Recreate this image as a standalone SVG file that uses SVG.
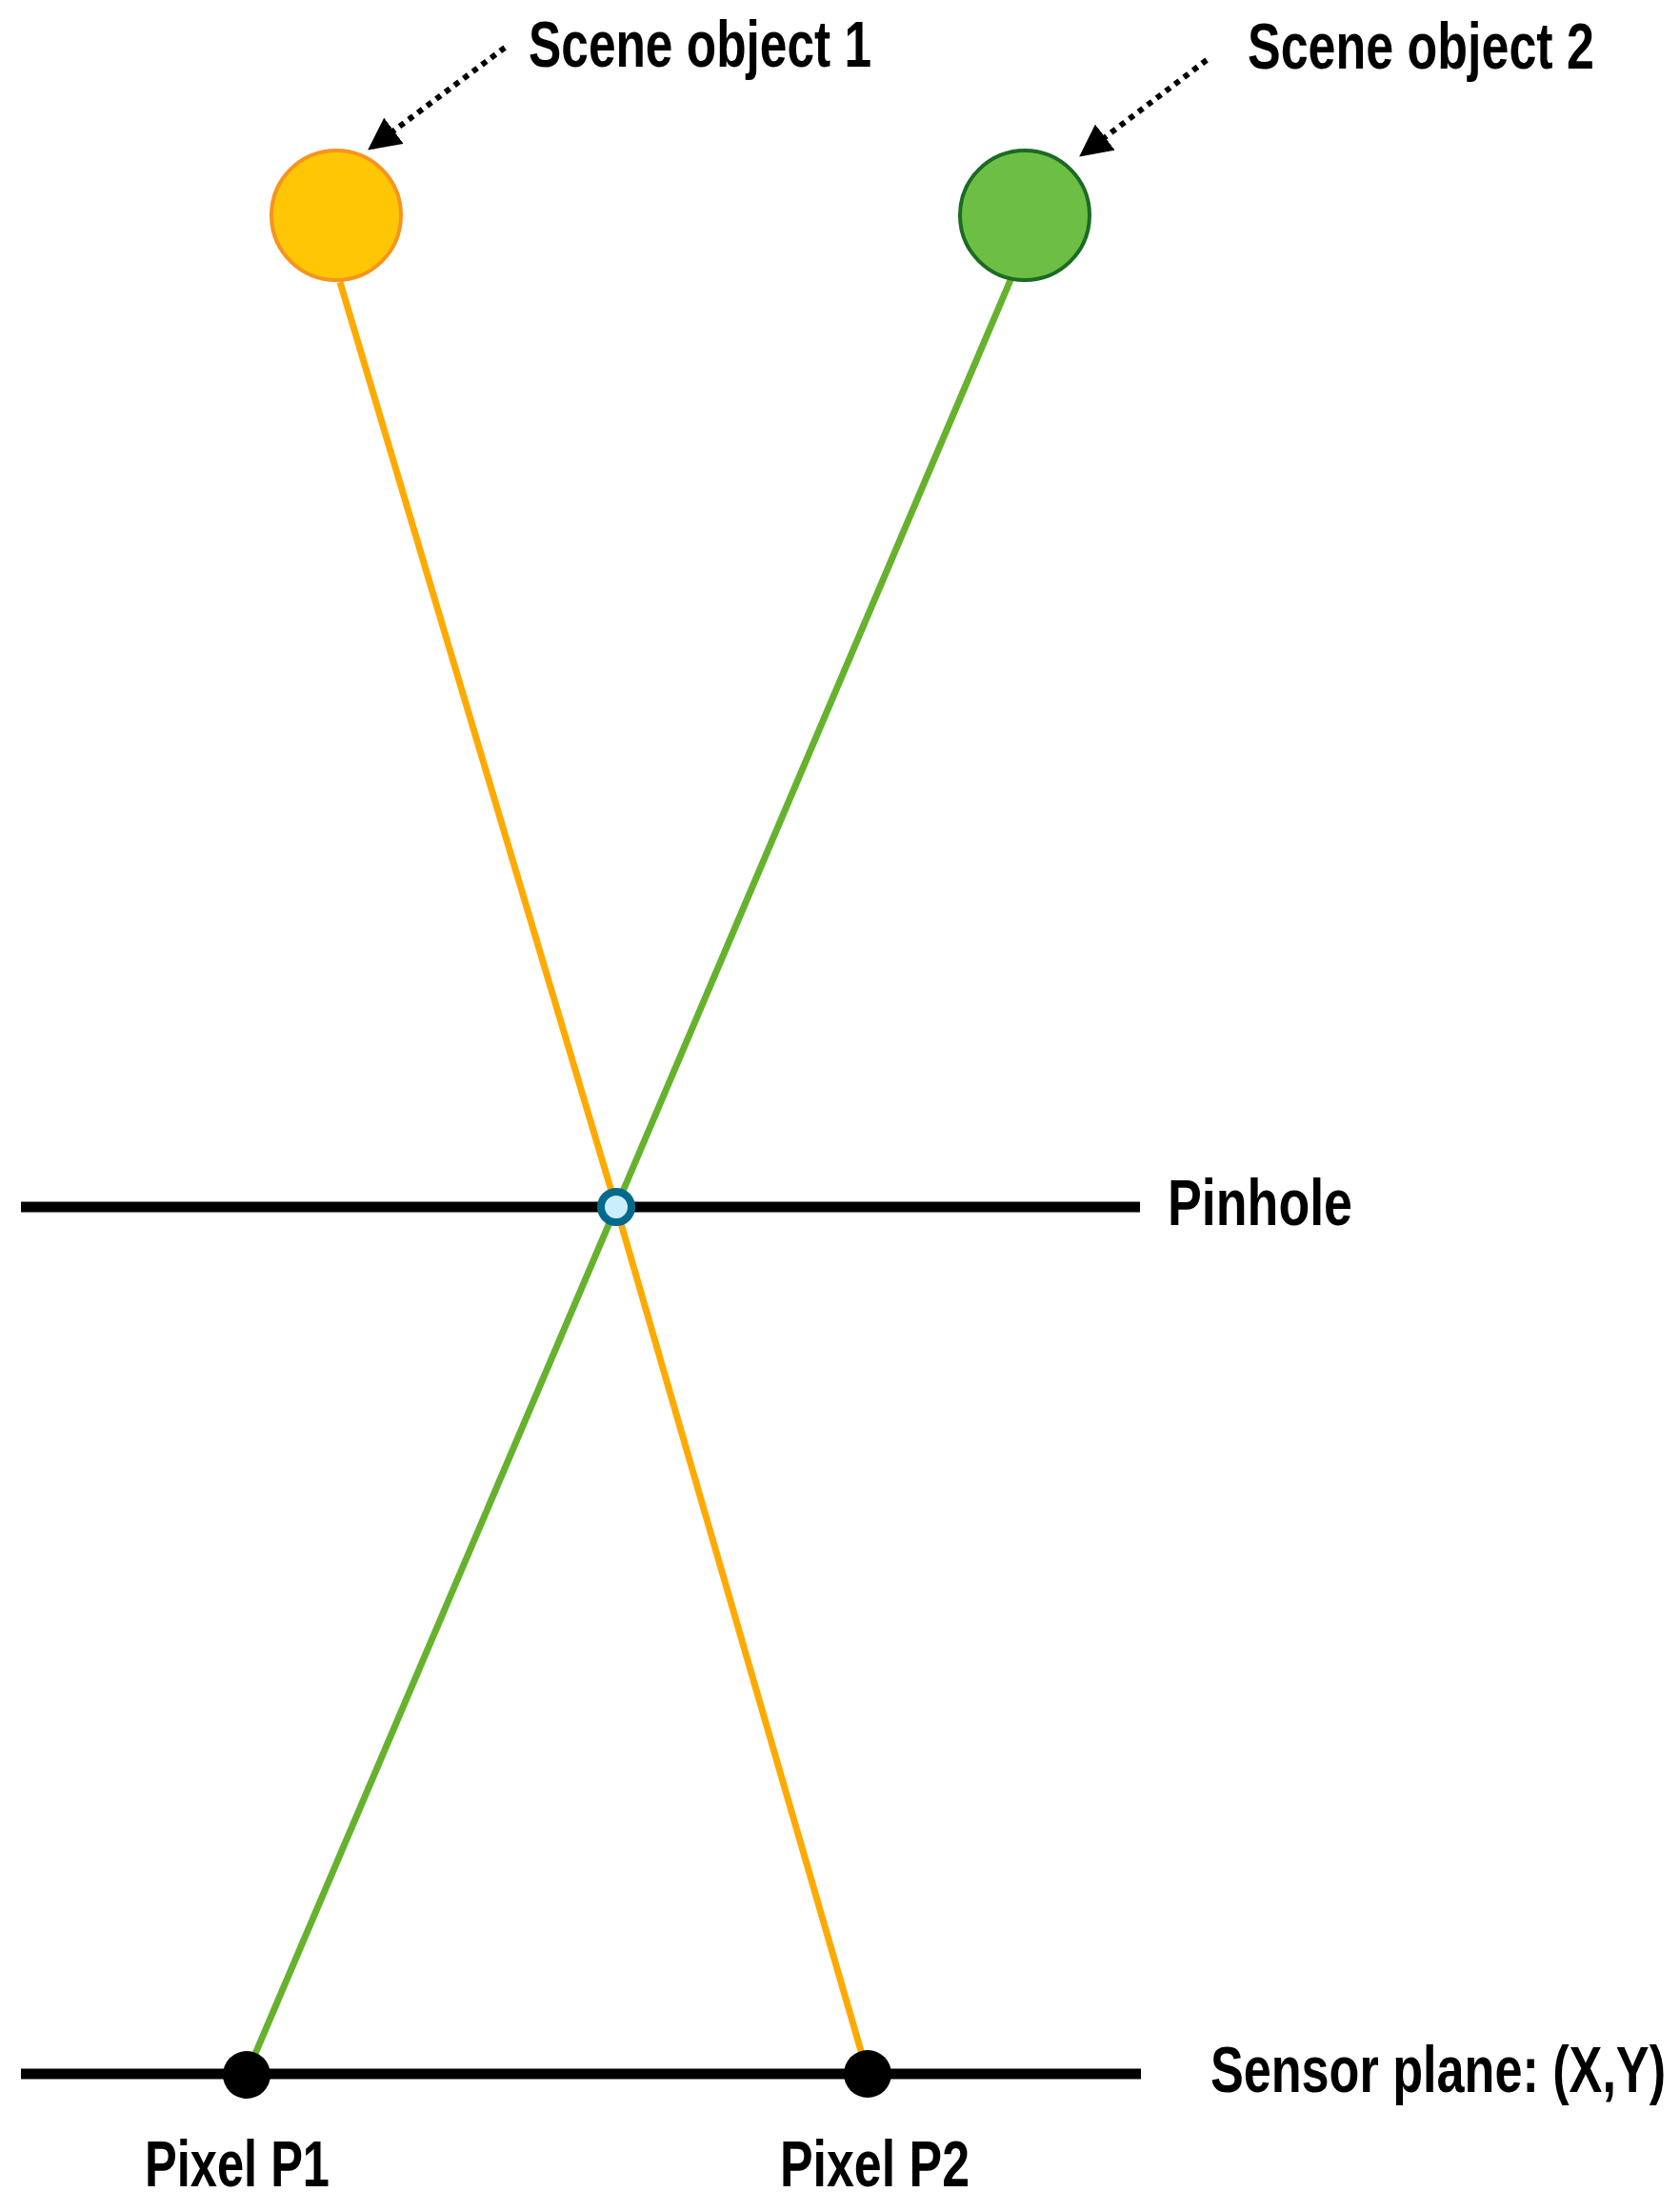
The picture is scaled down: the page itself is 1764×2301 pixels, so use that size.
<svg xmlns="http://www.w3.org/2000/svg" width="1764" height="2301" viewBox="0 0 1764 2301">
<style>
.lbl{font-family:"Liberation Sans Narrow","Liberation Sans",Arial,sans-serif;font-weight:bold;font-size:69px;fill:#000}
.ray{fill:none;stroke-width:7;stroke-linejoin:round}
.plane{stroke:#000;stroke-width:11}
.pt{stroke:#000;stroke-width:6;stroke-dasharray:6 6;fill:none}
</style>
<defs>
<marker id="ah" markerUnits="userSpaceOnUse" markerWidth="34" markerHeight="34" refX="33" refY="17" orient="auto">
<path d="M0,0 L34,17 L0,34 z" fill="#000"/>
</marker>
</defs>
<g id="connectors">
<polyline class="ray" stroke="#FFAA00" points="357,296 647,1267 911,2177"/>
<polyline class="ray" stroke="#66B22E" points="1061,294 647,1267 259,2177"/>
<line class="pt" x1="530" y1="50" x2="387" y2="157" marker-end="url(#ah)"/>
<line class="pt" x1="1267" y1="63" x2="1134" y2="164" marker-end="url(#ah)"/>
</g>
<g id="pinhole-plane">
<line class="plane" x1="22" y1="1267" x2="1197" y2="1267"/>
<text class="lbl" x="1226" y="1286" textLength="194" lengthAdjust="spacingAndGlyphs">Pinhole</text>
</g>
<g id="sensor-plane">
<line class="plane" x1="22" y1="2177" x2="1198" y2="2177"/>
<text class="lbl" x="1271" y="2196" textLength="478" lengthAdjust="spacingAndGlyphs">Sensor plane: (X,Y)</text>
</g>
<g id="scene-object-1">
<circle cx="353" cy="226" r="68" fill="#FFC605" stroke="#F7941D" stroke-width="4"/>
<text class="lbl" x="555" y="70" textLength="360" lengthAdjust="spacingAndGlyphs">Scene object 1</text>
</g>
<g id="scene-object-2">
<circle cx="1076" cy="226" r="68" fill="#6DBE45" stroke="#1B6B22" stroke-width="4"/>
<text class="lbl" x="1310" y="72" textLength="364" lengthAdjust="spacingAndGlyphs">Scene object 2</text>
</g>
<g id="pinhole">
<circle cx="647" cy="1267" r="16" fill="#CCEEFB" stroke="#046A8C" stroke-width="8"/>
</g>
<g id="pixel-p1">
<circle cx="259" cy="2178" r="25" fill="#000"/>
<text class="lbl" x="152" y="2295" textLength="194" lengthAdjust="spacingAndGlyphs">Pixel P1</text>
</g>
<g id="pixel-p2">
<circle cx="911" cy="2177" r="25" fill="#000"/>
<text class="lbl" x="819" y="2295" textLength="199" lengthAdjust="spacingAndGlyphs">Pixel P2</text>
</g>
</svg>
